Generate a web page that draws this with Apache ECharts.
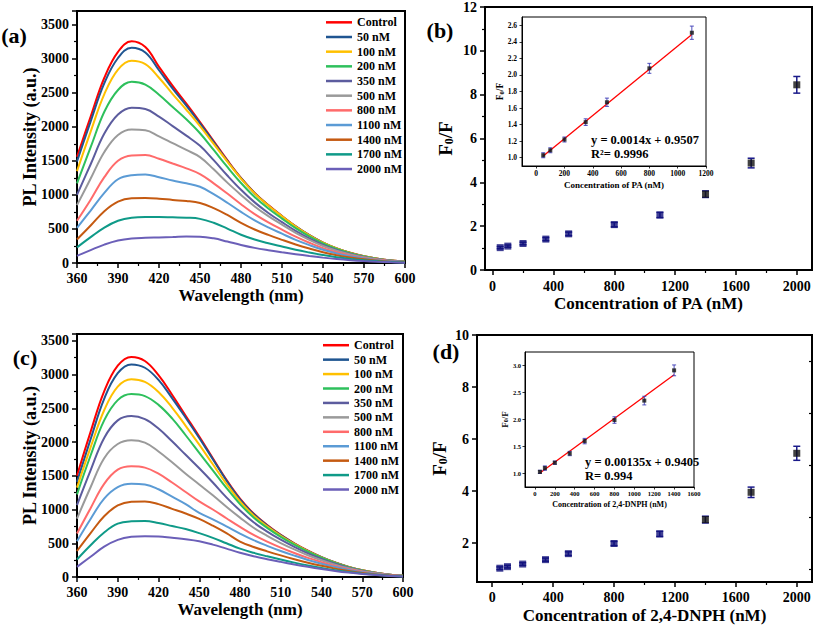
<!DOCTYPE html>
<html><head><meta charset="utf-8">
<script src="https://cdn.jsdelivr.net/npm/echarts@6/dist/echarts.min.js"></script>
<style>html,body{margin:0;padding:0;background:#fff}#c{width:817px;height:625px}</style>
</head><body><div id="c"></div>
<script>
// ---------- data ----------
const wavelengths = [360,370,380,390,400,410,420,430,440,450,460,470,480,490,500,510,520,530,540,550,560,570,580,590,600];
const concNames = ['Control','50 nM','100 nM','200 nM','350 nM','500 nM','800 nM','1100 nM','1400 nM','1700 nM','2000 nM'];
const seriesColors = ['#ff0000','#1f5591','#ffc000','#2ec05c','#5c5c9e','#9a9a9a','#ff6b6b','#5b9bd5','#c55a11','#0f9a88','#6b5fb8'];

// panel (a) spectra (PA)
const a_control = [1560,2150,2720,3100,3255,3170,2880,2600,2340,2070,1790,1510,1250,1030,850,690,540,410,300,215,150,100,62,35,18];
const a_50   = [1490,2080,2640,3010,3160,3090,2830,2560,2310,2050,1775,1500,1245,1025,845,686,537,408,298,214,149,99,62,35,18];
const a_100  = [1350,1930,2480,2840,2970,2920,2720,2480,2250,2010,1750,1490,1240,1022,843,685,536,407,298,214,149,99,62,35,18];
const a_200  = [1170,1700,2220,2540,2660,2620,2470,2290,2110,1905,1660,1410,1175,968,800,652,511,390,286,206,144,96,60,34,17];
const a_350  = [1000,1450,1900,2180,2280,2260,2150,2010,1870,1720,1510,1285,1075,890,735,600,472,361,265,191,134,89,56,32,16];
const a_500  = [850,1240,1630,1880,1960,1950,1860,1760,1660,1555,1375,1180,1000,830,688,563,443,340,250,180,126,84,53,30,15];
const a_800  = [620,930,1260,1500,1580,1585,1530,1460,1390,1305,1170,1020,863,718,596,490,387,298,219,158,111,74,47,27,14];
const a_1100 = [515,770,1030,1230,1290,1300,1260,1210,1170,1120,1010,885,750,626,522,430,340,263,194,140,98,66,42,24,12];
const a_1400 = [345,550,760,900,950,955,945,925,910,880,805,705,590,492,412,340,272,212,158,115,81,54,34,20,10];
const a_1700 = [230,380,520,620,665,675,675,670,665,648,590,505,415,345,290,242,195,154,116,85,60,40,26,15,8];
const a_2000 = [105,190,270,330,360,370,375,380,388,386,362,315,265,222,188,158,130,103,79,58,41,28,18,10,5];

// panel (c) spectra (2,4-DNPH)
const c_control = [1500,2150,2750,3130,3260,3200,2990,2700,2390,2080,1760,1440,1160,940,770,625,500,390,295,215,150,100,62,35,18];
const c_50   = [1410,2040,2640,3020,3150,3100,2920,2650,2360,2060,1745,1430,1150,932,764,620,496,387,293,214,149,99,62,35,18];
const c_100  = [1325,1920,2470,2820,2930,2890,2740,2510,2240,1960,1670,1380,1120,912,750,610,489,382,290,212,148,99,62,35,18];
const c_200  = [1225,1800,2320,2620,2710,2680,2550,2350,2100,1840,1580,1320,1080,882,728,594,478,374,285,209,146,97,61,34,17];
const c_350  = [1065,1580,2060,2320,2385,2340,2200,2010,1810,1610,1400,1180,985,810,672,552,446,350,268,197,138,92,58,33,16];
const c_500  = [865,1330,1760,1970,2025,1990,1860,1700,1530,1370,1210,1040,880,730,610,503,408,322,248,183,129,86,54,31,15];
const c_800  = [645,1020,1380,1590,1640,1620,1530,1400,1260,1120,1000,870,742,623,525,436,356,283,220,163,115,77,49,28,14];
const c_1100 = [530,860,1160,1330,1380,1370,1300,1190,1080,950,855,750,643,545,462,386,317,253,197,147,104,70,45,26,13];
const c_1400 = [385,650,900,1060,1115,1120,1080,1010,940,860,760,650,525,445,380,320,264,212,166,124,88,60,38,22,11];
const c_1700 = [260,470,660,790,825,830,800,755,710,650,580,500,420,358,306,258,213,172,135,102,73,50,32,19,9];
const c_2000 = [150,300,450,550,595,605,600,580,560,530,480,420,360,308,264,224,186,151,119,90,65,44,28,16,8];

// panel (b) quenching ratio (PA)
const concentrations = [50,100,200,350,500,800,1100,1400,1700,2000];
const b_ratio = [1.02,1.09,1.21,1.41,1.65,2.07,2.51,3.46,4.88,8.45];
const b_err   = [0.05,0.05,0.06,0.07,0.08,0.10,0.12,0.15,0.22,0.38];
const bInsetConc  = [50,100,200,350,500,800,1100];
const bInsetRatio = [1.03,1.09,1.22,1.43,1.67,2.08,2.51];
const bInsetErr   = [0.03,0.03,0.03,0.04,0.05,0.06,0.08];
const bFitX = [50,1100];
const bFitY = [1.02,2.49];

// panel (d) quenching ratio (2,4-DNPH)
const d_ratio = [1.03,1.09,1.19,1.36,1.59,1.98,2.35,2.90,3.95,5.45];
const d_err   = [0.05,0.05,0.05,0.06,0.07,0.08,0.10,0.13,0.20,0.27];
const dInsetConc  = [50,100,200,350,500,800,1100,1400];
const dInsetRatio = [1.03,1.10,1.20,1.37,1.60,1.99,2.35,2.91];
const dInsetErr   = [0.03,0.04,0.03,0.04,0.05,0.06,0.08,0.10];
const dFitX = [50,1400];
const dFitY = [1.01,2.83];

// tick labels
const bMainXTicks = [0,400,800,1200,1600,2000];
const bMainXMinor = [200,600,1000,1400,1800];
const dMainYTicks = [2,4,6,8,10];
const dMainYMinor = [1,3,5,7,9];
const bInsetXTicks = [0,200,400,600,800,1000,1200];
const bInsetYTicks = [1.0,1.2,1.4,1.6,1.8,2.0,2.2,2.4,2.6];
const dInsetXTicks = [0,200,400,600,800,1000,1200,1400,1600];
const dInsetYTicks = [1.0,1.5,2.0,2.5,3.0];

// ---------- style helpers ----------
const FONT = '"Liberation Serif", "Times New Roman", "DejaVu Serif", serif';
function txt(size, extra) { return Object.assign({color:'#000', fontFamily:FONT, fontWeight:'bold', fontSize:size}, extra || {}); }
const plain = v => String(v);
function axisBase(o) {
  const lw = o.thin ? 1 : 2;
  const ax = {
    type:'value', gridIndex:o.grid, min:o.min, max:o.max, position:o.position, offset:0,
    axisLine:{show:true, onZero:false, lineStyle:{color:'#000', width:lw}},
    axisTick:{show:true, inside:false, length:o.thin ? 2.5 : 5, lineStyle:{color:'#000', width:o.thin ? 0.8 : 1.5}},
    minorTick:{show:!!o.minor, splitNumber:2, length:3, lineStyle:{color:'#000', width:1.2}},
    splitLine:{show:false},
    axisLabel: txt(o.labelSize || 14, {margin:o.margin == null ? 8 : o.margin, showMaxLabel: o.showMax !== false, formatter:o.fmt || plain}),
    name:o.name, nameLocation:'middle', nameGap:o.nameGap, nameRotate:o.nameRotate,
    nameTextStyle: Object.assign(txt(o.nameSize || 17), o.rich ? {rich:o.rich} : {}),
    nameMoveOverlap:false, z:o.z || 0
  };
  if (o.interval != null) ax.interval = o.interval;
  if (o.ticks) { ax.axisTick.customValues = o.ticks; ax.axisLabel.customValues = o.ticks; }
  return ax;
}
// minor ticks drawn by an extra axis placed on the opposite side and shifted onto the main edge
function minorAxis(grid, min, max, position, shift, vals) {
  return {type:'value', gridIndex:grid, min, max, position, offset:-shift,
    axisLine:{show:false}, axisLabel:{show:false}, splitLine:{show:false},
    axisTick:{show:true, inside:true, length:3, customValues:vals, lineStyle:{color:'#000', width:1.2}}};
}
function fRich(big, small) {
  return {m:txt(big, {lineHeight:big+3, verticalAlign:'bottom'}), s:txt(small, {lineHeight:small*0.6, verticalAlign:'bottom'})};
}
function spectra(arrs, xi, yi) {
  return arrs.map((arr, k) => ({
    name:concNames[k], type:'line', xAxisIndex:xi, yAxisIndex:yi,
    data:wavelengths.map((w, i) => [w, arr[i]]),
    smooth:0.4, symbol:'none', showSymbol:false, silent:true,
    lineStyle:{color:seriesColors[k], width:2}, itemStyle:{color:seriesColors[k]}
  }));
}
function errorBars(xs, ys, errs, xi, yi, color, cap, lw, z) {
  return {type:'custom', xAxisIndex:xi, yAxisIndex:yi, z, silent:true, clip:false,
    data:xs.map((x, i) => [x, ys[i] - errs[i], ys[i] + errs[i]]),
    renderItem(params, api) {
      const x = api.value(0);
      const lo = api.coord([x, api.value(1)]);
      const hi = api.coord([x, api.value(2)]);
      const st = {stroke:color, lineWidth:lw, fill:null};
      return {type:'group', children:[
        {type:'line', shape:{x1:lo[0], y1:lo[1], x2:hi[0], y2:hi[1]}, style:st},
        {type:'line', shape:{x1:lo[0]-cap, y1:lo[1], x2:lo[0]+cap, y2:lo[1]}, style:st},
        {type:'line', shape:{x1:hi[0]-cap, y1:hi[1], x2:hi[0]+cap, y2:hi[1]}, style:st}
      ]};
    }};
}
function points(xs, ys, xi, yi, size, colorFn, z) {
  return {type:'scatter', xAxisIndex:xi, yAxisIndex:yi, z, silent:true, symbol:'rect', symbolSize:size,
    data:xs.map((x, i) => [x, ys[i]]), itemStyle:{color:colorFn}};
}
function fitLine(xs, ys, xi, yi, z) {
  return {type:'line', xAxisIndex:xi, yAxisIndex:yi, z, silent:true, symbol:'none',
    data:xs.map((x, i) => [x, ys[i]]), lineStyle:{color:'#ff0000', width:1.3}};
}
function legendFor(left, top, pitch) {
  return {data:concNames, selectedMode:false, orient:'vertical', left, top, padding:0,
    icon:'rect', itemWidth:26, itemHeight:2.5, itemGap:0,
    textStyle:txt(12, {lineHeight:pitch, height:pitch})};
}
function label(text, x, y, size, align) {
  return {type:'text', x, y, z:100, style:{text, textAlign:align || 'center', textVerticalAlign:'middle',
    fill:'#000', fontFamily:FONT, fontWeight:'bold', fontSize:size}};
}

const gridCommon = {show:true, borderColor:'#000', borderWidth:2, backgroundColor:'#fff', outerBoundsMode:'none', containLabel:false};
const option = {
  animation:false,
  backgroundColor:'#fff',
  textStyle:{fontFamily:FONT},
  grid:[
    Object.assign({}, gridCommon, {left:77, top:11, width:328, height:252}),
    Object.assign({}, gridCommon, {left:485, top:7, width:327, height:263}),
    Object.assign({}, gridCommon, {left:522, top:17, width:184, height:149, borderWidth:1, z:5}),
    Object.assign({}, gridCommon, {left:77, top:334, width:326, height:243}),
    Object.assign({}, gridCommon, {left:477, top:335, width:335, height:247}),
    Object.assign({}, gridCommon, {left:525, top:352, width:169, height:135, borderWidth:1, z:5})
  ],
  xAxis:[
    axisBase({grid:0, min:360, max:600, interval:30, minor:true, position:'bottom', name:'Wavelength (nm)', nameGap:24, margin:8}),
    axisBase({grid:1, min:-50, max:2100, ticks:bMainXTicks, position:'bottom', name:'Concentration of PA (nM)', nameGap:25, margin:9}),
    axisBase({grid:2, min:-100, max:1200, ticks:bInsetXTicks, position:'bottom', thin:true, labelSize:7.5, margin:3,
      name:'Concentration of PA (nM)', nameSize:9, nameGap:14, z:6}),
    axisBase({grid:3, min:360, max:600, interval:30, minor:true, position:'bottom', name:'Wavelength (nm)', nameGap:24, margin:8}),
    axisBase({grid:4, min:-100, max:2100, ticks:bMainXTicks, position:'bottom', name:'Concentration of 2,4-DNPH (nM)', nameGap:25, margin:8}),
    axisBase({grid:5, min:-100, max:1600, ticks:dInsetXTicks, position:'bottom', thin:true, labelSize:6.5, margin:3,
      name:'Concentration of 2,4-DNPH (nM)', nameSize:8, nameGap:13, z:6}),
    minorAxis(1, -50, 2100, 'top', 263, bMainXMinor),
    minorAxis(4, -100, 2100, 'top', 247, bMainXMinor)
  ],
  yAxis:[
    axisBase({grid:0, min:0, max:3700, interval:500, minor:true, showMax:false, position:'left', name:'PL Intensity (a.u.)', nameSize:18, nameGap:38, margin:8}),
    axisBase({grid:1, min:0, max:12, interval:2, minor:true, position:'left', name:'{m|F}{s|0}{m|/F}', rich:fRich(19, 12), nameGap:30, margin:8}),
    axisBase({grid:2, min:0.9, max:2.7, ticks:bInsetYTicks, fmt:v => v.toFixed(1), position:'left', thin:true, labelSize:7.5, margin:5,
      name:'{m|F}{s|0}{m|/F}', rich:fRich(9.5, 6.5), nameGap:17, z:6}),
    axisBase({grid:3, min:0, max:3600, interval:500, minor:true, showMax:false, position:'left', name:'PL Intensity (a.u.)', nameSize:18, nameGap:38, margin:8}),
    axisBase({grid:4, min:0.5, max:10, ticks:dMainYTicks, position:'left', name:'{m|F}{s|0}{m|/F}', rich:fRich(19, 12), nameGap:28, margin:8}),
    axisBase({grid:5, min:0.75, max:3.25, ticks:dInsetYTicks, fmt:v => v.toFixed(1), position:'left', thin:true, labelSize:6.5, margin:4,
      name:'{m|F}{s|0}{m|/F}', rich:fRich(9, 6), nameGap:16, z:6}),
    minorAxis(4, 0.5, 10, 'right', 335, dMainYMinor)
  ],
  legend:[legendFor(326, 15, 14.67), legendFor(323, 338, 14.43)],
  series:[].concat(
    spectra([a_control,a_50,a_100,a_200,a_350,a_500,a_800,a_1100,a_1400,a_1700,a_2000], 0, 0),
    spectra([c_control,c_50,c_100,c_200,c_350,c_500,c_800,c_1100,c_1400,c_1700,c_2000], 3, 3),
    [
      errorBars(concentrations, b_ratio, b_err, 1, 1, '#1a1a8a', 3.5, 1.5, 3),
      points(concentrations, b_ratio, 1, 1, 7, p => p.dataIndex >= 7 ? '#111111' : '#10107a', 4),
      fitLine(bFitX, bFitY, 2, 2, 7),
      errorBars(bInsetConc, bInsetRatio, bInsetErr, 2, 2, '#3b3bb5', 2, 0.9, 8),
      points(bInsetConc, bInsetRatio, 2, 2, 4, '#111111', 9),
      errorBars(concentrations, d_ratio, d_err, 4, 4, '#1a1a8a', 3.5, 1.5, 3),
      points(concentrations, d_ratio, 4, 4, 7, p => p.dataIndex >= 7 ? '#111111' : '#10107a', 4),
      fitLine(dFitX, dFitY, 5, 5, 7),
      errorBars(dInsetConc, dInsetRatio, dInsetErr, 5, 5, '#3b3bb5', 2, 0.9, 8),
      points(dInsetConc, dInsetRatio, 5, 5, 4, '#111111', 9)
    ]
  ),
  graphic:[
    label('(a)', 14, 35, 22),
    label('(b)', 440, 30, 22),
    label('(c)', 25, 357, 22),
    label('(d)', 446, 351, 22),
    label('y = 0.0014x + 0.9507', 591, 140, 12.5, 'left'),
    label('R\u00b2= 0.9996', 591, 154, 12.5, 'left'),
    label('y = 0.00135x + 0.9405', 585, 462, 12.5, 'left'),
    label('R= 0.994', 585, 476, 12.5, 'left')
  ]
};
const chart = echarts.init(document.getElementById('c'), null, {renderer:'svg', width:817, height:625});
chart.setOption(option);
</script>
</body></html>
